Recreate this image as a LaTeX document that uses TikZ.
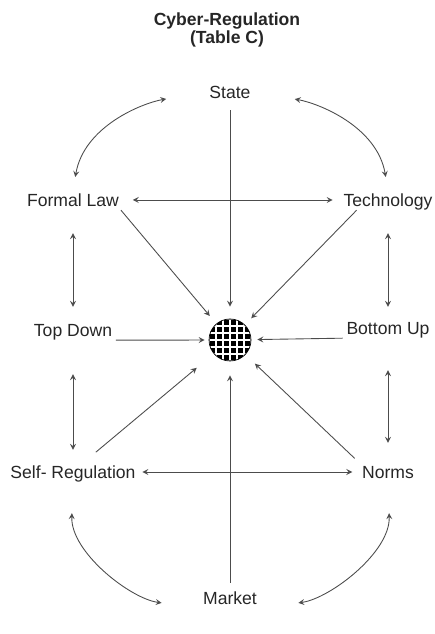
\documentclass[tikz,border=0pt]{standalone}
\usepackage{fontspec}
\setmainfont{Liberation Sans}
\usetikzlibrary{arrows}

\begin{document}
\begin{tikzpicture}[
  x=0.02cm, y=0.02cm,
  every node/.style={font=\fontsize{10}{11}\selectfont, text=black!85, inner sep=2pt, text height=7.2pt, text depth=0pt},
  heading/.style={font=\fontsize{10}{11}\selectfont\bfseries},
  link/.style={draw=black!70, line width=0.5pt, ->, >=stealth},
  twoway/.style={link, <->}
]
\useasboundingbox (0,0) rectangle (434,634);

\node[heading] (title) at (227,615) {Cyber-Regulation};
\node[heading] (subtitle) at (227,597) {(Table C)};

\node (state) at (230,542) {State};
\node (law) at (73,434) {Formal Law};
\node (tech) at (388,434) {Technology};
\node (topdown) at (73,304) {Top Down};
\node (bottomup) at (388,306) {Bottom Up};
\node (selfreg) at (73,162) {Self- Regulation};
\node (norms) at (388,162) {Norms};
\node (market) at (230,36) {Market};

% hatched core
\node[circle, draw=black, fill=black, minimum size=0.84cm, inner sep=0pt] (core) at (230,294) {};
\begin{scope}
  \clip (core.center) circle (0.41cm);
  \draw[white, line width=0.8pt, step=0.14cm, shift={(core.center)}] (-0.5cm,-0.5cm) grid (0.5cm,0.5cm);
\end{scope}

% spokes into the core
\draw[link, shorten <=0.16cm, shorten >=0.24cm] (state) -- (core);
\draw[link, shorten <=0.1cm, shorten >=0.28cm] (market) -- (core);
\draw[link, shorten >=0.2cm] (law.-12) -- (core);
\draw[link, shorten >=0.18cm] (tech.-162) -- (core);
\draw[link, shorten >=0.08cm] (topdown.south east) -- (core);
\draw[link, shorten >=0.12cm] (bottomup.south west) -- (core);
\draw[link, shorten <=0.3cm, shorten >=0.44cm] (selfreg.42) -- (core);
\draw[link, shorten <=0.1cm, shorten >=0.26cm] (norms.north west) -- (core);

% two-way links
\draw[twoway, shorten <=0.46cm, shorten >=0.26cm] (law) -- (topdown);
\draw[twoway, shorten <=0.68cm, shorten >=0.24cm] (topdown) -- (selfreg);
\draw[twoway, shorten <=0.46cm, shorten >=0.22cm] (tech) -- (bottomup);
\draw[twoway, shorten <=0.64cm, shorten >=0.38cm] (bottomup) -- (norms);
\draw[twoway, shorten <=0.2cm, shorten >=0.14cm] (law) -- (tech);
\draw[twoway, shorten <=0.06cm, shorten >=0.12cm] (selfreg) -- (norms);

% outer arcs
\draw[twoway, shorten <=0.26cm, shorten >=0.8cm] (law.north) to[out=80, in=190] (state.west);
\draw[twoway, shorten <=0.26cm, shorten >=0.82cm] (tech.north) to[out=100, in=-10] (state.east);
\draw[twoway, shorten <=0.62cm, shorten >=0.76cm] (selfreg.south) to[out=-92, in=172] (market.south west);
\draw[twoway, shorten <=0.62cm, shorten >=0.76cm] (norms.south) to[out=-88, in=8] (market.south east);
\end{tikzpicture}
\end{document}
